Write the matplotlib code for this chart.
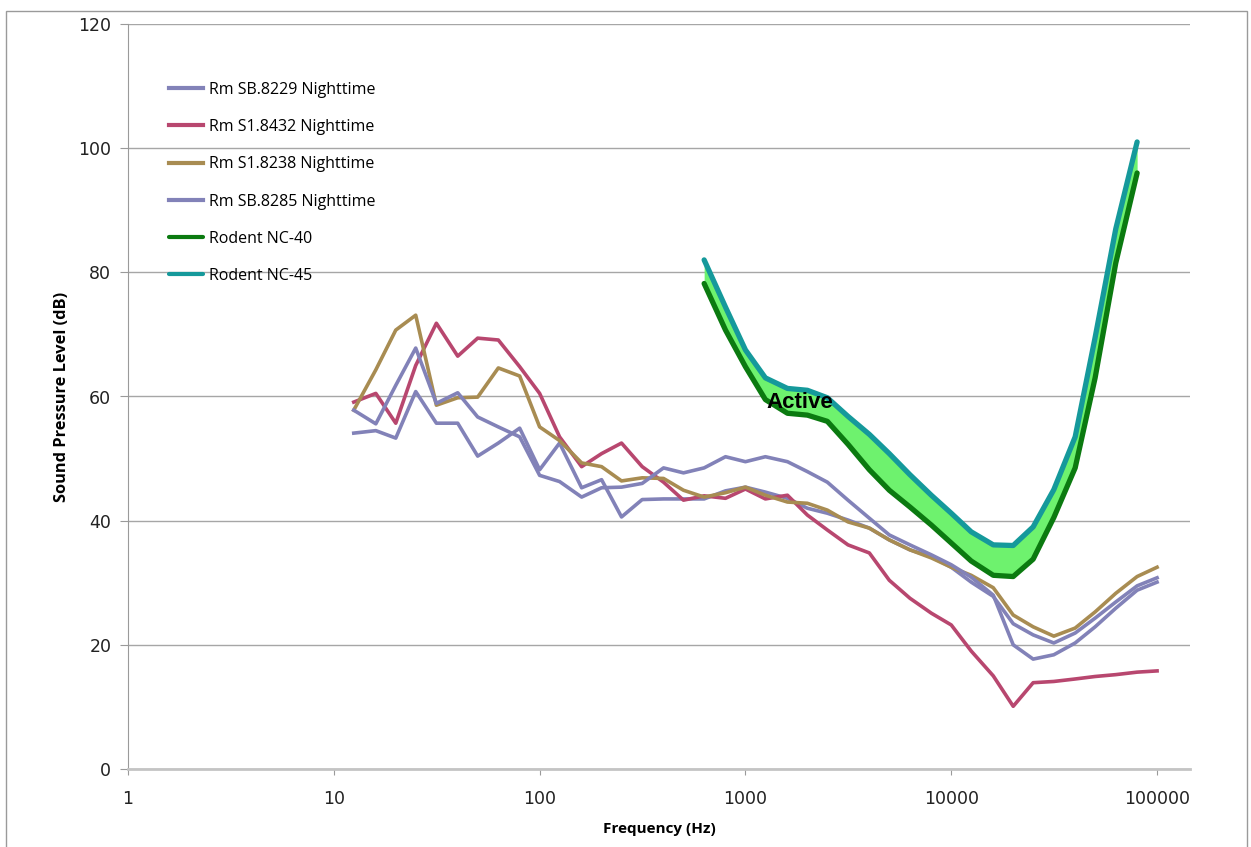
import numpy as np
import matplotlib.pyplot as plt
from matplotlib.patches import Rectangle

# 1/3 octave bands
freqs = [12.5, 16, 20, 25, 31.5, 40, 50, 63, 80, 100, 125, 160, 200, 250, 315, 400, 500, 630,
         800, 1000, 1250, 1600, 2000, 2500, 3150, 4000, 5000, 6300, 8000, 10000, 12500, 16000,
         20000, 25000, 31500, 40000, 50000, 63000, 80000, 100000]

sb8229 = [54.1, 54.5, 53.3, 60.8, 55.7, 55.7, 50.4, 52.5, 54.9, 48.2, 52.5, 45.3, 46.6, 40.6,
          43.4, 43.5, 43.5, 43.5, 44.8, 45.4, 44.6, 43.6, 42.0, 41.2, 40.1, 38.8, 36.9, 35.3,
          34.2, 32.5, 30.1, 27.8, 23.4, 21.6, 20.3, 21.9, 24.3, 26.9, 29.5, 30.8]
s18432 = [59.1, 60.5, 55.7, 65.0, 71.8, 66.5, 69.4, 69.1, 64.8, 60.5, 53.5, 48.7, 50.8, 52.5,
          48.7, 46.2, 43.3, 44.0, 43.6, 45.1, 43.5, 44.1, 40.9, 38.5, 36.1, 34.8, 30.4, 27.5,
          25.1, 23.2, 19.0, 15.0, 10.1, 13.9, 14.1, 14.5, 14.9, 15.2, 15.6, 15.8]
s18238 = [57.8, 64.3, 70.7, 73.1, 58.6, 59.8, 59.9, 64.6, 63.3, 55.1, 52.9, 49.3, 48.7, 46.4,
          46.9, 46.8, 44.9, 43.8, 44.5, 45.4, 44.1, 43.0, 42.8, 41.7, 39.8, 38.8, 36.9, 35.3,
          34.0, 32.5, 31.2, 29.2, 24.8, 22.9, 21.4, 22.7, 25.3, 28.3, 31.0, 32.5]
sb8285 = [57.8, 55.6, 61.8, 67.8, 58.9, 60.6, 56.7, 55.1, 53.5, 47.3, 46.3, 43.8, 45.3, 45.4,
          46.0, 48.5, 47.7, 48.5, 50.3, 49.5, 50.3, 49.5, 47.9, 46.2, 43.3, 40.4, 37.7, 36.1,
          34.5, 32.9, 30.9, 28.0, 20.0, 17.7, 18.4, 20.3, 22.9, 25.9, 28.8, 30.1]

nc_freqs = [630, 800, 1000, 1250, 1600, 2000, 2500, 3150, 4000, 5000, 6300, 8000, 10000,
            12500, 16000, 20000, 25000, 31500, 40000, 50000, 63000, 80000]
nc40 = [78.2, 70.7, 64.8, 59.5, 57.3, 57.0, 56.0, 52.3, 48.2, 44.9, 42.2, 39.3, 36.4, 33.5,
        31.2, 31.0, 33.8, 40.5, 48.5, 63.0, 81.5, 96.0]
nc45 = [82.0, 74.4, 67.5, 63.0, 61.3, 61.0, 59.8, 56.8, 53.9, 50.8, 47.4, 44.1, 41.2, 38.2,
        36.1, 36.0, 39.0, 45.0, 53.5, 69.5, 87.0, 101.0]

c_blue = '#8282b8'
c_red = '#b8476f'
c_gold = '#a88c52'
c_green = '#0b7a10'
c_teal = '#15999b'

fig = plt.figure(figsize=(12.51, 8.47), dpi=100)
fig.patches.append(Rectangle((6 / 1251, -0.01), 1241 / 1251, 0.9965, transform=fig.transFigure,
                             fill=False, edgecolor='#9a9a9a', linewidth=1))
ax = fig.add_axes([128 / 1251, 78 / 847, 1062 / 1251, 745 / 847])

ax.fill_between(nc_freqs, nc40, nc45, color='#6ef26e', linewidth=0, zorder=2)
ax.plot(freqs, sb8229, color=c_blue, lw=2.6, label='Rm SB.8229 Nighttime', zorder=3)
ax.plot(freqs, s18432, color=c_red, lw=2.6, label='Rm S1.8432 Nighttime', zorder=3)
ax.plot(freqs, s18238, color=c_gold, lw=2.6, label='Rm S1.8238 Nighttime', zorder=3)
ax.plot(freqs, sb8285, color=c_blue, lw=2.6, label='Rm SB.8285 Nighttime', zorder=3)
ax.plot(nc_freqs, nc40, color=c_green, lw=3.8, solid_capstyle='round', solid_joinstyle='round',
        label='Rodent NC-40', zorder=4)
ax.plot(nc_freqs, nc45, color=c_teal, lw=3.8, solid_capstyle='round', solid_joinstyle='round',
        label='Rodent NC-45', zorder=4)

ax.text(1265, 59, 'Active', fontsize=16, fontweight='bold', family='Liberation Sans',
        ha='left', va='center', zorder=5)

ax.set_xscale('log')
ax.set_xlim(1, 10 ** 5.16)
ax.set_ylim(0, 120)
ax.set_xticks([1, 10, 100, 1000, 10000, 100000])
ax.set_xticklabels(['1', '10', '100', '1000', '10000', '100000'])
ax.xaxis.set_minor_locator(plt.NullLocator())
ax.set_yticks(range(0, 121, 20))

ax.grid(axis='y', color='#a6a6a6', lw=1)
ax.set_axisbelow(True)
for s in ['top', 'right']:
    ax.spines[s].set_visible(False)
ax.spines['left'].set_color('#9a9a9a')
ax.spines['bottom'].set_color('#c4c4c4')
ax.spines['bottom'].set_linewidth(2)
ax.tick_params(axis='y', direction='out', length=6, color='#9a9a9a', labelsize=12.5,
               labelcolor='#222222', pad=6)
ax.tick_params(axis='x', direction='out', length=4, color='#9a9a9a', labelsize=12.5,
               labelcolor='#222222', pad=11)

ax.set_xlabel('Frequency (Hz)', fontsize=11, fontweight='bold', family='Open Sans', labelpad=10)
ax.set_ylabel('Sound Pressure Level (dB)', fontsize=11.8, fontweight='bold', family='Open Sans',
              labelpad=6)

leg = ax.legend(loc='upper left', bbox_to_anchor=(0.033, 0.931), frameon=False,
                prop={'family': 'Open Sans', 'size': 11.5}, handlelength=2.1, handletextpad=0.4,
                labelspacing=1.33, borderaxespad=0)
for h in leg.get_lines():
    h.set_linewidth(3)

fig.savefig('out.png', dpi=100)
